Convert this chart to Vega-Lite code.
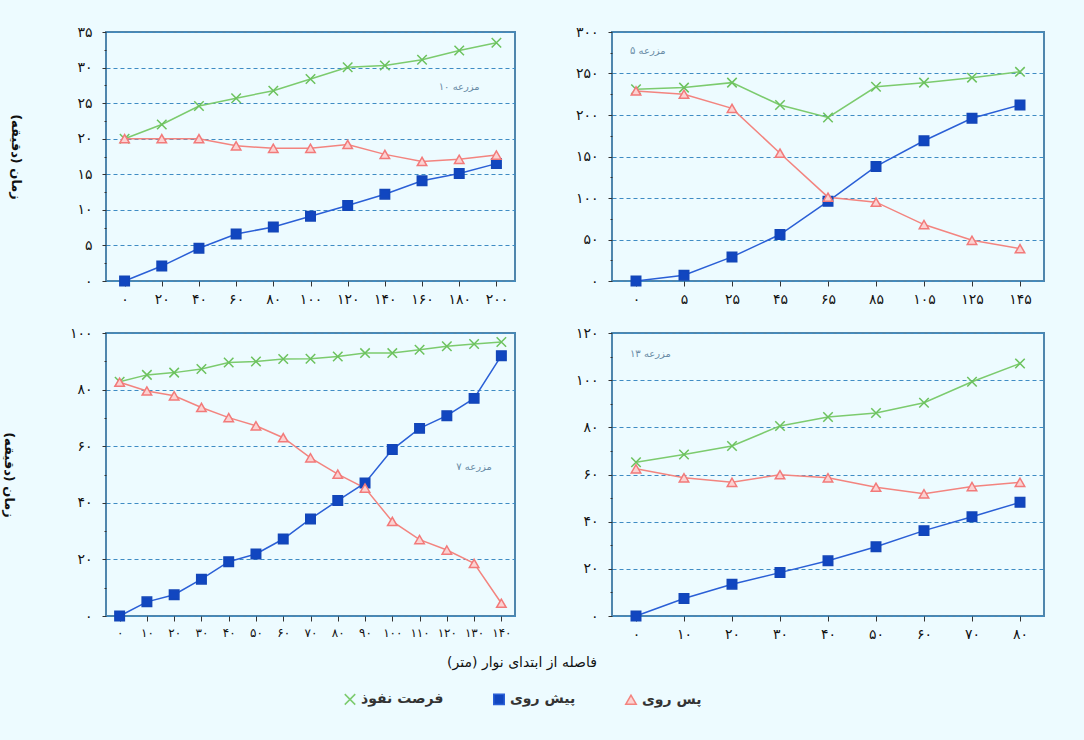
{
  "$schema": "https://vega.github.io/schema/vega-lite/v6.json",
  "background": "#edfbff",
  "padding": {"left": 0, "top": 24, "right": 39, "bottom": 40},
  "config": {
    "font": "DejaVu Sans",
    "view": {"stroke": "#4f86ad", "strokeWidth": 2},
    "axis": {"labelFont": "DejaVu Sans", "labelFontSize": 14, "labelColor": "#111", "tickColor": "#333", "domain": false, "titleFont": "DejaVu Sans", "titleFontSize": 13, "titleFontWeight": "bold", "titleColor": "#111"},
    "axisX": {"labelAngle": 0, "tickSize": 5, "labelPadding": 6, "grid": false},
    "axisY": {"tickSize": 4, "labelPadding": 10, "gridColor": "#3f8cc4", "gridDash": [4, 3], "gridWidth": 1.2},
    "legend": {"orient": "bottom", "direction": "horizontal", "layout": {"bottom": {"anchor": "middle"}}, "titleOrient": "top", "titleAnchor": "middle", "titleFont": "DejaVu Sans", "titleFontSize": 14, "titleFontWeight": "normal", "titleColor": "#111", "titlePadding": 22, "labelFont": "DejaVu Sans", "labelFontSize": 14, "labelFontWeight": "bold", "labelColor": "#333", "symbolSize": 110, "columnPadding": 46, "offset": 14, "labelLimit": 200}
  },
  "datasets": {
    "farm10": [
      {"d": 0, "adv": 0, "rec": 20, "opp": 20},
      {"d": 20, "adv": 2.1, "rec": 20.0, "opp": 22.0},
      {"d": 40, "adv": 4.6, "rec": 20.0, "opp": 24.6},
      {"d": 60, "adv": 6.6, "rec": 19.0, "opp": 25.7},
      {"d": 80, "adv": 7.6, "rec": 18.65, "opp": 26.75},
      {"d": 100, "adv": 9.1, "rec": 18.65, "opp": 28.4},
      {"d": 120, "adv": 10.6, "rec": 19.2, "opp": 30.05},
      {"d": 140, "adv": 12.2, "rec": 17.8, "opp": 30.3},
      {"d": 160, "adv": 14.1, "rec": 16.8, "opp": 31.1},
      {"d": 180, "adv": 15.1, "rec": 17.1, "opp": 32.4},
      {"d": 200, "adv": 16.5, "rec": 17.7, "opp": 33.5}
    ],
    "farm5": [
      {"d": 0, "adv": 0, "rec": 229, "opp": 231},
      {"d": 5, "adv": 7, "rec": 225, "opp": 233},
      {"d": 25, "adv": 29, "rec": 208, "opp": 239},
      {"d": 45, "adv": 56, "rec": 154, "opp": 212},
      {"d": 65, "adv": 96, "rec": 101, "opp": 197},
      {"d": 85, "adv": 138, "rec": 95, "opp": 234},
      {"d": 105, "adv": 169, "rec": 68, "opp": 239},
      {"d": 125, "adv": 196, "rec": 49, "opp": 245},
      {"d": 145, "adv": 212, "rec": 39, "opp": 252}
    ],
    "farm7": [
      {"d": 0, "adv": 0, "rec": 82.6, "opp": 82.8},
      {"d": 10, "adv": 5.0, "rec": 79.5, "opp": 85.2},
      {"d": 20, "adv": 7.5, "rec": 77.8, "opp": 86.0},
      {"d": 30, "adv": 13.0, "rec": 73.7, "opp": 87.3},
      {"d": 40, "adv": 19.2, "rec": 70.1, "opp": 89.6},
      {"d": 50, "adv": 21.9, "rec": 67.2, "opp": 89.9},
      {"d": 60, "adv": 27.2, "rec": 63.0, "opp": 90.8},
      {"d": 70, "adv": 34.3, "rec": 55.9, "opp": 90.9},
      {"d": 80, "adv": 40.8, "rec": 50.1, "opp": 91.7},
      {"d": 90, "adv": 47.0, "rec": 45.2, "opp": 92.9},
      {"d": 100, "adv": 58.8, "rec": 33.4, "opp": 92.9},
      {"d": 110, "adv": 66.3, "rec": 27.0, "opp": 94.1},
      {"d": 120, "adv": 70.8, "rec": 23.3, "opp": 95.3},
      {"d": 130, "adv": 76.9, "rec": 18.6, "opp": 96.1},
      {"d": 140, "adv": 92.0, "rec": 4.5, "opp": 96.8}
    ],
    "farm13": [
      {"d": 0, "adv": 0, "rec": 62.4, "opp": 65.2},
      {"d": 10, "adv": 7.4, "rec": 58.6, "opp": 68.5},
      {"d": 20, "adv": 13.5, "rec": 56.7, "opp": 72.1},
      {"d": 30, "adv": 18.4, "rec": 59.9, "opp": 80.6},
      {"d": 40, "adv": 23.4, "rec": 58.6, "opp": 84.4},
      {"d": 50, "adv": 29.4, "rec": 54.6, "opp": 86.1},
      {"d": 60, "adv": 36.2, "rec": 51.8, "opp": 90.4},
      {"d": 70, "adv": 42.1, "rec": 54.9, "opp": 99.3},
      {"d": 80, "adv": 48.2, "rec": 56.7, "opp": 107.1}
    ]
  },
  "columns": 2,
  "spacing": {"column": 58, "row": 18},
  "resolve": {"scale": {"x": "independent", "y": "independent"}},
  "concat": [
    {
      "width": 409, "height": 249,
      "data": {"name": "farm10"},
      "transform": [{"fold": ["opp", "adv", "rec"], "as": ["series", "t"]}],
      "encoding": {
        "x": {"field": "d", "type": "ordinal", "scale": {"padding": 0.5}, "axis": {"title": null, "labelExpr": "replace(replace(replace(replace(replace(replace(replace(replace(replace(replace(datum.label,regexp('0','g'),'۰'),regexp('1','g'),'۱'),regexp('2','g'),'۲'),regexp('3','g'),'۳'),regexp('4','g'),'۴'),regexp('5','g'),'۵'),regexp('6','g'),'۶'),regexp('7','g'),'۷'),regexp('8','g'),'۸'),regexp('9','g'),'۹')"}},
        "y": {"field": "t", "type": "quantitative", "scale": {"domain": [0, 35], "nice": false}, "axis": {"title": "زمان (دقیقه)", "titleAngle": 90, "titlePadding": 68, "values": [0, 2.5, 5, 7.5, 10, 12.5, 15, 17.5, 20, 22.5, 25, 27.5, 30, 32.5, 35], "gridOpacity": {"condition": {"test": "datum.value % 5 != 0", "value": 0}, "value": 1}, "tickSize": {"condition": {"test": "datum.value % 5 != 0", "value": 2}, "value": 4}, "labelExpr": "datum.value % 5 != 0 ? '' : replace(replace(replace(replace(replace(replace(replace(replace(replace(replace(datum.label,regexp('0','g'),'۰'),regexp('1','g'),'۱'),regexp('2','g'),'۲'),regexp('3','g'),'۳'),regexp('4','g'),'۴'),regexp('5','g'),'۵'),regexp('6','g'),'۶'),regexp('7','g'),'۷'),regexp('8','g'),'۸'),regexp('9','g'),'۹')"}}
      },
      "layer": [
        {"mark": {"type": "line"}, "encoding": {
          "color": {"field": "series", "type": "nominal", "scale": {"domain": ["opp", "adv", "rec"], "range": ["#7ccb6e", "#2a5fd6", "#f3847f"]}, "legend": {"title": "فاصله از ابتدای نوار (متر)", "labelExpr": "datum.label == 'opp' ? 'فرصت نفوذ' : datum.label == 'adv' ? 'پیش روی' : 'پس روی'"}},
          "strokeWidth": {"field": "series", "type": "nominal", "scale": {"domain": ["opp", "adv", "rec"], "range": [1.5, 1.5, 2.5]}, "legend": null}
        }},
        {"mark": {"type": "point", "opacity": 1, "strokeWidth": 1.5}, "encoding": {
          "shape": {"field": "series", "type": "nominal", "scale": {"domain": ["opp", "adv", "rec"], "range": ["M-1,-1L1,1M-1,1L1,-1", "square", "triangle-up"]}, "legend": {"title": "فاصله از ابتدای نوار (متر)", "labelExpr": "datum.label == 'opp' ? 'فرصت نفوذ' : datum.label == 'adv' ? 'پیش روی' : 'پس روی'"}},
          "stroke": {"field": "series", "type": "nominal", "scale": {"domain": ["opp", "adv", "rec"], "range": ["#6cc25e", "#1346b8", "#f27a7a"]}, "legend": {"title": "فاصله از ابتدای نوار (متر)", "labelExpr": "datum.label == 'opp' ? 'فرصت نفوذ' : datum.label == 'adv' ? 'پیش روی' : 'پس روی'"}},
          "fill": {"field": "series", "type": "nominal", "scale": {"domain": ["opp", "adv", "rec"], "range": ["transparent", "#1146c0", "#fbd2d2"]}, "legend": {"title": "فاصله از ابتدای نوار (متر)", "labelExpr": "datum.label == 'opp' ? 'فرصت نفوذ' : datum.label == 'adv' ? 'پیش روی' : 'پس روی'"}},
          "size": {"value": 90}
        }},
        {"data": {"values": [{"d": 180, "t": 27.3, "label": "مزرعه ۱۰"}]}, "transform": [], "mark": {"type": "text", "fontSize": 10, "color": "#6a8ca6"}, "encoding": {"text": {"field": "label"}}}
      ]
    },
    {
      "width": 432, "height": 249,
      "data": {"name": "farm5"},
      "transform": [{"fold": ["opp", "adv", "rec"], "as": ["series", "t"]}],
      "encoding": {
        "x": {"field": "d", "type": "ordinal", "scale": {"padding": 0.5}, "axis": {"title": null, "labelExpr": "replace(replace(replace(replace(replace(replace(replace(replace(replace(replace(datum.label,regexp('0','g'),'۰'),regexp('1','g'),'۱'),regexp('2','g'),'۲'),regexp('3','g'),'۳'),regexp('4','g'),'۴'),regexp('5','g'),'۵'),regexp('6','g'),'۶'),regexp('7','g'),'۷'),regexp('8','g'),'۸'),regexp('9','g'),'۹')"}},
        "y": {"field": "t", "type": "quantitative", "scale": {"domain": [0, 300], "nice": false}, "axis": {"title": null, "values": [0, 25, 50, 75, 100, 125, 150, 175, 200, 225, 250, 275, 300], "gridOpacity": {"condition": {"test": "datum.value % 50 != 0", "value": 0}, "value": 1}, "tickSize": {"condition": {"test": "datum.value % 50 != 0", "value": 2}, "value": 4}, "labelExpr": "datum.value % 50 != 0 ? '' : replace(replace(replace(replace(replace(replace(replace(replace(replace(replace(datum.label,regexp('0','g'),'۰'),regexp('1','g'),'۱'),regexp('2','g'),'۲'),regexp('3','g'),'۳'),regexp('4','g'),'۴'),regexp('5','g'),'۵'),regexp('6','g'),'۶'),regexp('7','g'),'۷'),regexp('8','g'),'۸'),regexp('9','g'),'۹')"}}
      },
      "layer": [
        {"mark": {"type": "line"}, "encoding": {
          "color": {"field": "series", "type": "nominal", "scale": {"domain": ["opp", "adv", "rec"], "range": ["#7ccb6e", "#2a5fd6", "#f3847f"]}, "legend": {"title": "فاصله از ابتدای نوار (متر)", "labelExpr": "datum.label == 'opp' ? 'فرصت نفوذ' : datum.label == 'adv' ? 'پیش روی' : 'پس روی'"}},
          "strokeWidth": {"field": "series", "type": "nominal", "scale": {"domain": ["opp", "adv", "rec"], "range": [1.5, 1.5, 2.5]}, "legend": null}
        }},
        {"mark": {"type": "point", "opacity": 1, "strokeWidth": 1.5}, "encoding": {
          "shape": {"field": "series", "type": "nominal", "scale": {"domain": ["opp", "adv", "rec"], "range": ["M-1,-1L1,1M-1,1L1,-1", "square", "triangle-up"]}, "legend": {"title": "فاصله از ابتدای نوار (متر)", "labelExpr": "datum.label == 'opp' ? 'فرصت نفوذ' : datum.label == 'adv' ? 'پیش روی' : 'پس روی'"}},
          "stroke": {"field": "series", "type": "nominal", "scale": {"domain": ["opp", "adv", "rec"], "range": ["#6cc25e", "#1346b8", "#f27a7a"]}, "legend": {"title": "فاصله از ابتدای نوار (متر)", "labelExpr": "datum.label == 'opp' ? 'فرصت نفوذ' : datum.label == 'adv' ? 'پیش روی' : 'پس روی'"}},
          "fill": {"field": "series", "type": "nominal", "scale": {"domain": ["opp", "adv", "rec"], "range": ["transparent", "#1146c0", "#fbd2d2"]}, "legend": {"title": "فاصله از ابتدای نوار (متر)", "labelExpr": "datum.label == 'opp' ? 'فرصت نفوذ' : datum.label == 'adv' ? 'پیش روی' : 'پس روی'"}},
          "size": {"value": 90}
        }},
        {"data": {"values": [{"d": 0, "t": 277, "label": "مزرعه ۵"}]}, "transform": [], "mark": {"type": "text", "fontSize": 10, "color": "#6a8ca6", "align": "left", "dx": -6}, "encoding": {"text": {"field": "label"}}}
      ]
    },
    {
      "width": 409, "height": 283,
      "data": {"name": "farm7"},
      "transform": [{"fold": ["opp", "adv", "rec"], "as": ["series", "t"]}],
      "encoding": {
        "x": {"field": "d", "type": "ordinal", "scale": {"padding": 0.5}, "axis": {"title": null, "labelFontSize": 12, "labelExpr": "replace(replace(replace(replace(replace(replace(replace(replace(replace(replace(datum.label,regexp('0','g'),'۰'),regexp('1','g'),'۱'),regexp('2','g'),'۲'),regexp('3','g'),'۳'),regexp('4','g'),'۴'),regexp('5','g'),'۵'),regexp('6','g'),'۶'),regexp('7','g'),'۷'),regexp('8','g'),'۸'),regexp('9','g'),'۹')"}},
        "y": {"field": "t", "type": "quantitative", "scale": {"domain": [0, 100], "nice": false}, "axis": {"title": "زمان (دقیقه)", "titleAngle": 90, "titlePadding": 68, "values": [0, 10, 20, 30, 40, 50, 60, 70, 80, 90, 100], "gridOpacity": {"condition": {"test": "datum.value % 20 != 0", "value": 0}, "value": 1}, "tickSize": {"condition": {"test": "datum.value % 20 != 0", "value": 2}, "value": 4}, "labelExpr": "datum.value % 20 != 0 ? '' : replace(replace(replace(replace(replace(replace(replace(replace(replace(replace(datum.label,regexp('0','g'),'۰'),regexp('1','g'),'۱'),regexp('2','g'),'۲'),regexp('3','g'),'۳'),regexp('4','g'),'۴'),regexp('5','g'),'۵'),regexp('6','g'),'۶'),regexp('7','g'),'۷'),regexp('8','g'),'۸'),regexp('9','g'),'۹')"}}
      },
      "layer": [
        {"mark": {"type": "line"}, "encoding": {
          "color": {"field": "series", "type": "nominal", "scale": {"domain": ["opp", "adv", "rec"], "range": ["#7ccb6e", "#2a5fd6", "#f3847f"]}, "legend": {"title": "فاصله از ابتدای نوار (متر)", "labelExpr": "datum.label == 'opp' ? 'فرصت نفوذ' : datum.label == 'adv' ? 'پیش روی' : 'پس روی'"}},
          "strokeWidth": {"field": "series", "type": "nominal", "scale": {"domain": ["opp", "adv", "rec"], "range": [1.5, 1.5, 2.5]}, "legend": null}
        }},
        {"mark": {"type": "point", "opacity": 1, "strokeWidth": 1.5}, "encoding": {
          "shape": {"field": "series", "type": "nominal", "scale": {"domain": ["opp", "adv", "rec"], "range": ["M-1,-1L1,1M-1,1L1,-1", "square", "triangle-up"]}, "legend": {"title": "فاصله از ابتدای نوار (متر)", "labelExpr": "datum.label == 'opp' ? 'فرصت نفوذ' : datum.label == 'adv' ? 'پیش روی' : 'پس روی'"}},
          "stroke": {"field": "series", "type": "nominal", "scale": {"domain": ["opp", "adv", "rec"], "range": ["#6cc25e", "#1346b8", "#f27a7a"]}, "legend": {"title": "فاصله از ابتدای نوار (متر)", "labelExpr": "datum.label == 'opp' ? 'فرصت نفوذ' : datum.label == 'adv' ? 'پیش روی' : 'پس روی'"}},
          "fill": {"field": "series", "type": "nominal", "scale": {"domain": ["opp", "adv", "rec"], "range": ["transparent", "#1146c0", "#fbd2d2"]}, "legend": {"title": "فاصله از ابتدای نوار (متر)", "labelExpr": "datum.label == 'opp' ? 'فرصت نفوذ' : datum.label == 'adv' ? 'پیش روی' : 'پس روی'"}},
          "size": {"value": 90}
        }},
        {"data": {"values": [{"d": 130, "t": 52.5, "label": "مزرعه ۷"}]}, "transform": [], "mark": {"type": "text", "fontSize": 10, "color": "#6a8ca6"}, "encoding": {"text": {"field": "label"}}}
      ]
    },
    {
      "width": 432, "height": 283,
      "data": {"name": "farm13"},
      "transform": [{"fold": ["opp", "adv", "rec"], "as": ["series", "t"]}],
      "encoding": {
        "x": {"field": "d", "type": "ordinal", "scale": {"padding": 0.5}, "axis": {"title": null, "labelExpr": "replace(replace(replace(replace(replace(replace(replace(replace(replace(replace(datum.label,regexp('0','g'),'۰'),regexp('1','g'),'۱'),regexp('2','g'),'۲'),regexp('3','g'),'۳'),regexp('4','g'),'۴'),regexp('5','g'),'۵'),regexp('6','g'),'۶'),regexp('7','g'),'۷'),regexp('8','g'),'۸'),regexp('9','g'),'۹')"}},
        "y": {"field": "t", "type": "quantitative", "scale": {"domain": [0, 120], "nice": false}, "axis": {"title": null, "values": [0, 10, 20, 30, 40, 50, 60, 70, 80, 90, 100, 110, 120], "gridOpacity": {"condition": {"test": "datum.value % 20 != 0", "value": 0}, "value": 1}, "tickSize": {"condition": {"test": "datum.value % 20 != 0", "value": 2}, "value": 4}, "labelExpr": "datum.value % 20 != 0 ? '' : replace(replace(replace(replace(replace(replace(replace(replace(replace(replace(datum.label,regexp('0','g'),'۰'),regexp('1','g'),'۱'),regexp('2','g'),'۲'),regexp('3','g'),'۳'),regexp('4','g'),'۴'),regexp('5','g'),'۵'),regexp('6','g'),'۶'),regexp('7','g'),'۷'),regexp('8','g'),'۸'),regexp('9','g'),'۹')"}}
      },
      "layer": [
        {"mark": {"type": "line"}, "encoding": {
          "color": {"field": "series", "type": "nominal", "scale": {"domain": ["opp", "adv", "rec"], "range": ["#7ccb6e", "#2a5fd6", "#f3847f"]}, "legend": {"title": "فاصله از ابتدای نوار (متر)", "labelExpr": "datum.label == 'opp' ? 'فرصت نفوذ' : datum.label == 'adv' ? 'پیش روی' : 'پس روی'"}},
          "strokeWidth": {"field": "series", "type": "nominal", "scale": {"domain": ["opp", "adv", "rec"], "range": [1.5, 1.5, 2.5]}, "legend": null}
        }},
        {"mark": {"type": "point", "opacity": 1, "strokeWidth": 1.5}, "encoding": {
          "shape": {"field": "series", "type": "nominal", "scale": {"domain": ["opp", "adv", "rec"], "range": ["M-1,-1L1,1M-1,1L1,-1", "square", "triangle-up"]}, "legend": {"title": "فاصله از ابتدای نوار (متر)", "labelExpr": "datum.label == 'opp' ? 'فرصت نفوذ' : datum.label == 'adv' ? 'پیش روی' : 'پس روی'"}},
          "stroke": {"field": "series", "type": "nominal", "scale": {"domain": ["opp", "adv", "rec"], "range": ["#6cc25e", "#1346b8", "#f27a7a"]}, "legend": {"title": "فاصله از ابتدای نوار (متر)", "labelExpr": "datum.label == 'opp' ? 'فرصت نفوذ' : datum.label == 'adv' ? 'پیش روی' : 'پس روی'"}},
          "fill": {"field": "series", "type": "nominal", "scale": {"domain": ["opp", "adv", "rec"], "range": ["transparent", "#1146c0", "#fbd2d2"]}, "legend": {"title": "فاصله از ابتدای نوار (متر)", "labelExpr": "datum.label == 'opp' ? 'فرصت نفوذ' : datum.label == 'adv' ? 'پیش روی' : 'پس روی'"}},
          "size": {"value": 90}
        }},
        {"data": {"values": [{"d": 0, "t": 111, "label": "مزرعه ۱۳"}]}, "transform": [], "mark": {"type": "text", "fontSize": 10, "color": "#6a8ca6", "align": "left", "dx": -6}, "encoding": {"text": {"field": "label"}}}
      ]
    }
  ]
}
